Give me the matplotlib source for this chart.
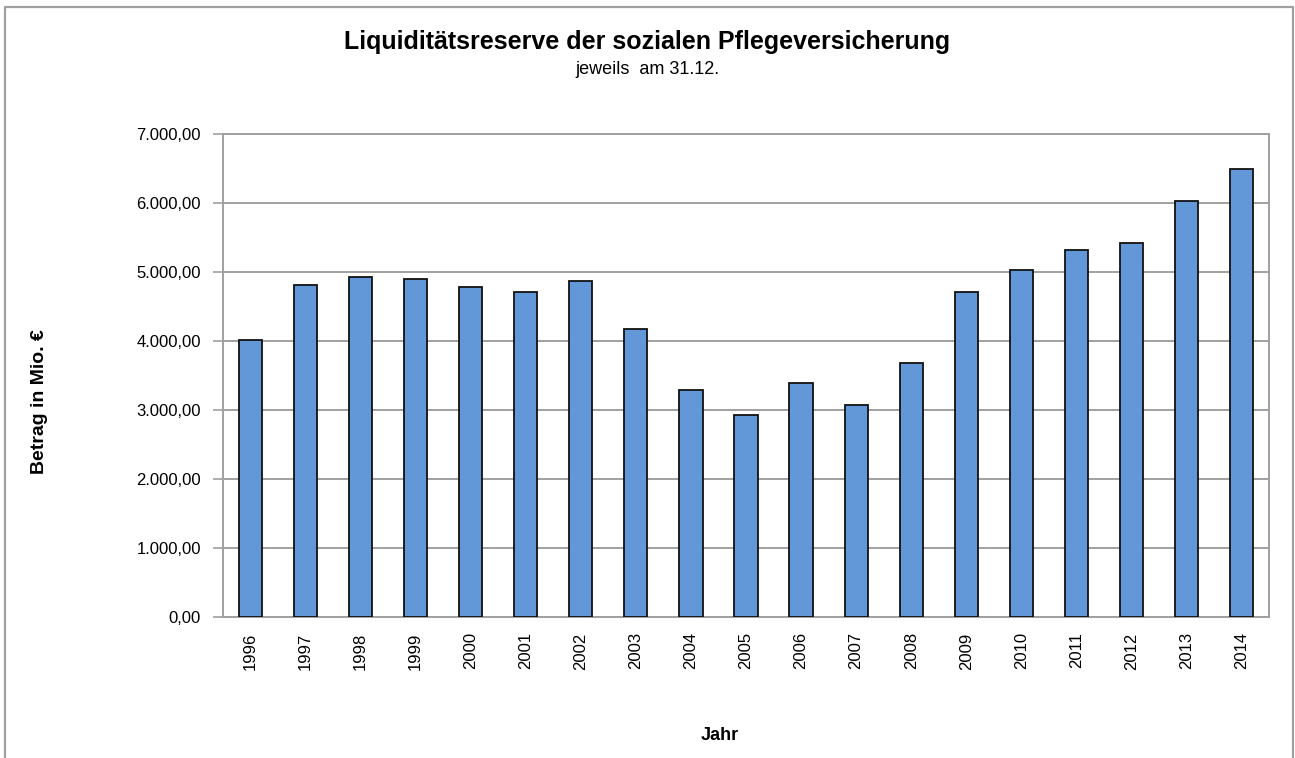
import numpy as np
import matplotlib.pyplot as plt
from matplotlib.lines import Line2D
from matplotlib.ticker import FuncFormatter

plt.rcParams['font.family'] = ['Liberation Sans', 'DejaVu Sans']

# Liquiditätsreserve in Mio. €
jahre = ['1996', '1997', '1998', '1999', '2000', '2001', '2002', '2003', '2004', '2005',
         '2006', '2007', '2008', '2009', '2010', '2011', '2012', '2013', '2014']
reserve = [4020, 4808, 4923, 4900, 4780, 4707, 4876, 4169, 3293, 2928,
           3390, 3072, 3683, 4707, 5025, 5317, 5414, 6029, 6490]

def de_format(v, pos):
    s = f"{v:,.2f}"
    return s.replace(',', 'X').replace('.', ',').replace('X', '.')

fig = plt.figure(figsize=(12.95, 7.58), dpi=100)
ax = fig.add_axes([223/1295, 1-617/758, (1269-223)/1295, (617-134)/758])

x = np.arange(len(jahre))
ax.bar(x, reserve, width=0.42, color='#6297D8', edgecolor='#111111', linewidth=1.3, zorder=3)

ax.set_xlim(-0.5, len(jahre) - 0.5)
ax.set_ylim(0, 7000)
ax.set_yticks(np.arange(0, 7001, 1000))
ax.yaxis.set_major_formatter(FuncFormatter(de_format))
ax.set_xticks(x)
ax.set_xticklabels(jahre, rotation=90)

ax.grid(axis='y', color='#A0A0A0', linewidth=1.4, zorder=0)
for s in ax.spines.values():
    s.set_color('#A0A0A0')
    s.set_linewidth(1.4)
ax.tick_params(axis='y', length=7, width=1.2, color='#A0A0A0', pad=9, labelsize=12)
ax.tick_params(axis='x', length=0, pad=11, labelsize=12)

fig.text(0.5, 1-42/758, 'Liquiditätsreserve der sozialen Pflegeversicherung',
         ha='center', va='center', fontsize=18, fontweight='bold')
fig.text(0.5, 1-70/758, 'jeweils  am 31.12.', ha='center', va='center', fontsize=13)
fig.text(40/1295, 1-402/758, 'Betrag in Mio. €', rotation=90, ha='center', va='center',
         fontsize=14, fontweight='bold')
fig.text(720/1295, 1-735/758, 'Jahr', ha='center', va='center', fontsize=13, fontweight='bold')

# Rahmen des Diagramms (unten abgeschnitten)
fx = [5/1295, 5/1295, 1293/1295, 1293/1295]
fy = [0, 1-7/758, 1-7/758, 0]
fig.add_artist(Line2D(fx, fy, color='#A0A0A0', linewidth=1.6, transform=fig.transFigure))

fig.savefig('out.png', dpi=100)
